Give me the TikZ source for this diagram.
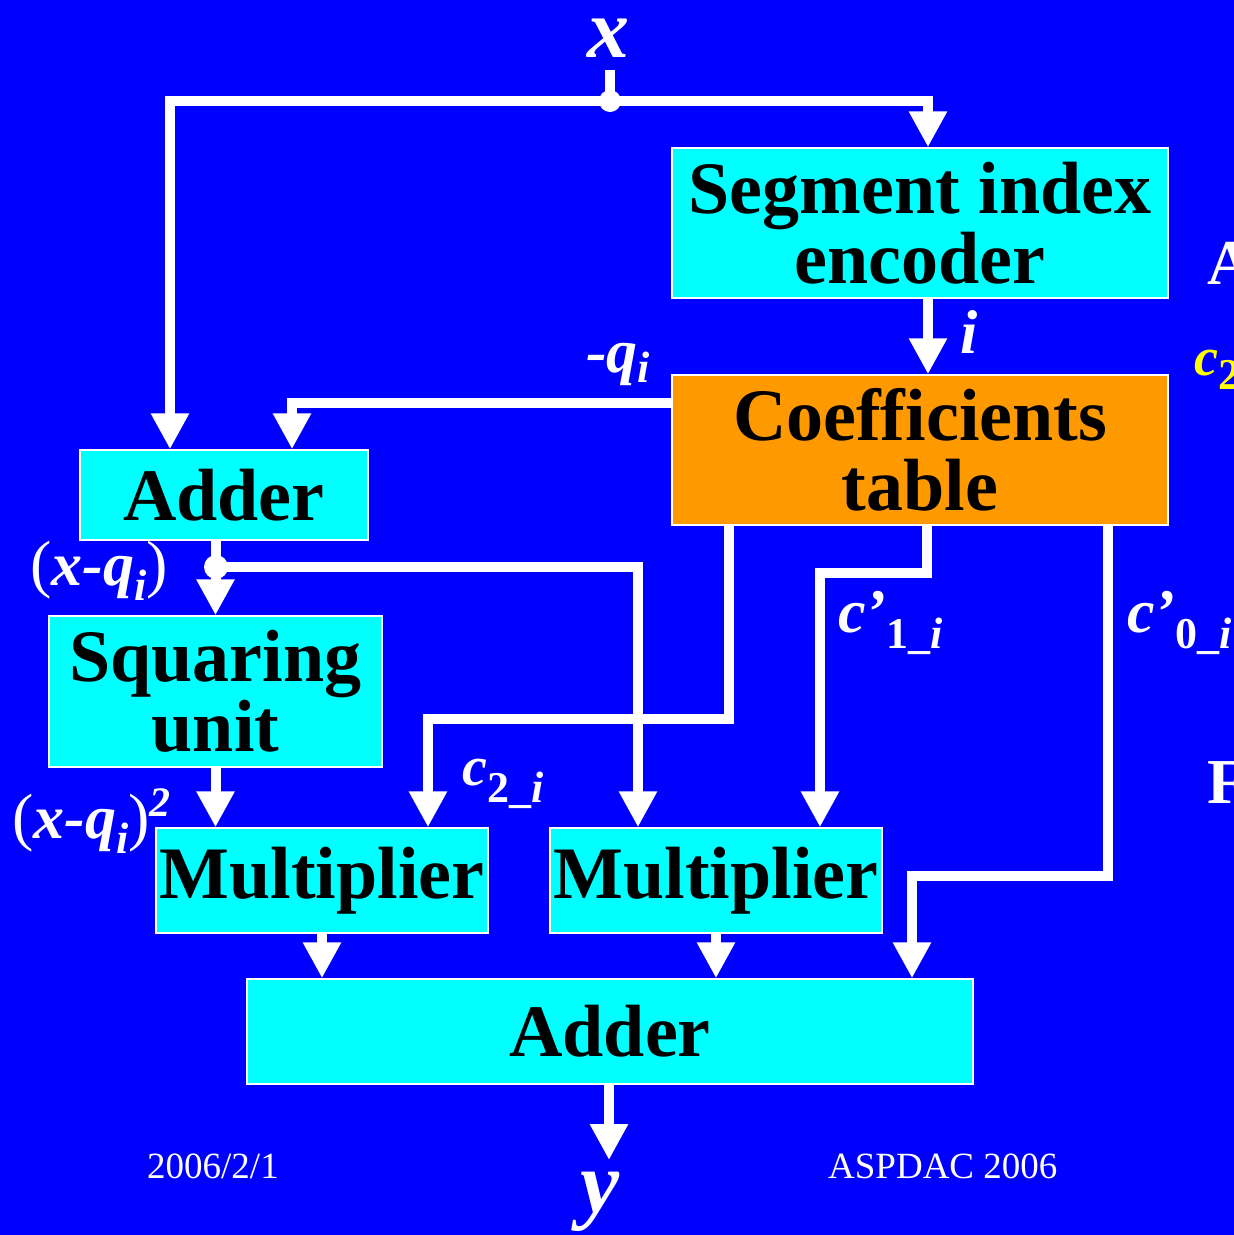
\documentclass[tikz,border=0pt]{standalone}
\usepackage{fontspec}
\setmainfont{Liberation Serif}
\usetikzlibrary{arrows.meta}
\definecolor{bgblue}{RGB}{0,0,255}
\definecolor{cy}{RGB}{0,255,255}
\definecolor{orng}{RGB}{255,153,0}
\definecolor{yel}{RGB}{255,255,0}
\newcommand\boxfont{\fontsize{74}{70}\selectfont\bfseries}
\newcommand\lblfont[1]{\fontsize{#1}{#1}\selectfont\bfseries\itshape}
\newcommand\subs[2][15pt]{\raisebox{-#1}{\fontsize{44}{44}\selectfont #2}}
\newcommand\uppar[2]{{\normalfont\fontsize{#1}{#1}\selectfont #2}}
\begin{document}
\begin{tikzpicture}[x=1pt,y=1pt,
  blk/.style={draw=white, line width=1.5pt, fill=cy, align=center, font=\boxfont, inner sep=0pt},
  wire/.style={draw=white, line width=10pt, line join=miter},
  arr/.style={wire, -{Triangle[width=36pt,length=36pt]}},
  lbl/.style={text=white, inner sep=0pt, anchor=base west}]
\fill[bgblue] (0,0) rectangle (1234,-1235);
\useasboundingbox (0,0) rectangle (1234,-1235);

% blocks
\node[blk, minimum width=496pt, minimum height=150pt] (seg) at (920,-223) {Segment index\\encoder};
\node[blk, fill=orng, minimum width=496pt, minimum height=150pt] (coef) at (920,-450) {Coefficients\\table};
\node[blk, minimum width=288pt, minimum height=90pt] (add1) at (224,-495) {Adder};
\node[blk, minimum width=333pt, minimum height=151pt] (sq) at (215.5,-691.5) {Squaring\\unit};
\node[blk, minimum width=332pt, minimum height=105pt] (mul1) at (322,-880.5) {Multiplier};
\node[blk, minimum width=332pt, minimum height=105pt] (mul2) at (716,-880.5) {Multiplier};
\node[blk, minimum width=726pt, minimum height=105pt] (add2) at (610,-1031.5) {Adder};

% input / output labels
\node[text=white, inner sep=0pt, anchor=base, font=\lblfont{84}] (xin) at (608,-57) {x};
\node[text=white, inner sep=0pt, anchor=base, font=\lblfont{88}] (yout) at (600,-1212) {y};
\coordinate (jx) at (610,-101);
\coordinate (j2) at (216,-567);
\coordinate (yend) at (609,-1160);

% wires
\draw[wire] ([yshift=-13pt]xin.south -| jx) -- (jx);
\draw[arr] (jx) -| ([xshift=-54pt]add1.north);
\draw[arr] (jx) -| ([xshift=8pt]seg.north);
\draw[arr] ([xshift=8pt]seg.south) -- ([xshift=8pt]coef.north);
\draw[arr] ([yshift=-29pt]coef.north west) -| ([xshift=68pt]add1.north);
\draw[arr] (add1.south -| sq.north) -- (sq.north);
\draw[arr] (j2) -| ([xshift=-78pt]mul2.north);
\draw[arr] (sq.south) -- (sq.south |- mul1.north);
\draw[arr] ([xshift=-191pt]coef.south) -- ++(0,-193) -| ([xshift=106pt]mul1.north);
\draw[arr] ([xshift=7pt]coef.south) -- ++(0,-47) -| ([xshift=104pt]mul2.north);
\draw[arr] ([xshift=188pt]coef.south) -- ++(0,-350) -| ([xshift=302pt]add2.north);
\draw[arr] (mul1.south) -- (mul1.south |- add2.north);
\draw[arr] (mul2.south) -- (mul2.south |- add2.north);
\draw[arr] (add2.south -| yend) -- (yend);
\fill[white] (jx) circle (11pt);
\fill[white] (j2) circle (12pt);

% wire labels
\node[lbl, font=\lblfont{62}] (li) at (960,-353) {i};
\node[lbl, font=\lblfont{62}] (lq) at (586,-372) {-q\subs[10pt]{i}};
\node[lbl, font=\lblfont{62}] (lxq) at (30,-585) {\uppar{64}{(}x-q\subs{i}\uppar{64}{)}};
\node[lbl, font=\lblfont{62}] (lxq2) at (12,-838) {\uppar{64}{(}x-q\subs{i}\uppar{64}{)}\raisebox{22pt}{\fontsize{42}{42}\selectfont 2}};
\node[lbl, font=\lblfont{56}] (lc2) at (462,-785) {c\subs[17pt]{\upshape 2\_\itshape i}};
\node[lbl, font=\lblfont{62}] (lc1) at (838,-632) {c’\subs[16pt]{\upshape 1\_\itshape i}};
\node[lbl, font=\lblfont{62}] (lc0) at (1127,-632) {c’\subs[16pt]{\upshape 0\_\itshape i}};

% footer
\node[lbl, font=\fontsize{37}{37}\selectfont] (date) at (147,-1178) {2006/2/1};
\node[lbl, font=\fontsize{37}{37}\selectfont] (conf) at (828,-1178) {ASPDAC 2006};

% partially visible text at right edge (cut off in the reference too)
\begin{scope}
\clip (0,0) rectangle (1234,-1235);
\node[lbl, font=\fontsize{64}{64}\selectfont\bfseries] (ra) at (1207,-284) {A};
\node[lbl, text=yel, font=\lblfont{54}] (rc) at (1194,-375) {c\subs[14pt]{\upshape 2}};
\node[lbl, font=\fontsize{64}{64}\selectfont\bfseries] (rf) at (1207,-803) {F};
\end{scope}
\end{tikzpicture}
\end{document}
